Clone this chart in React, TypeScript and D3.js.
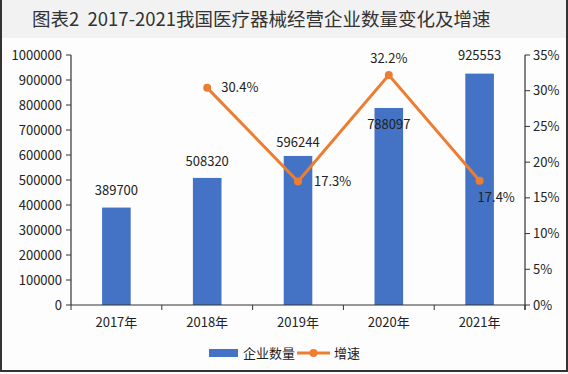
import React from 'react';
import * as d3 from 'd3';

const years = ['2017年', '2018年', '2019年', '2020年', '2021年'];
const companies = [389700, 508320, 596244, 788097, 925553];
const growth: (number | null)[] = [null, 30.4, 17.3, 32.2, 17.4];
const leftTicks = [0, 100000, 200000, 300000, 400000, 500000, 600000, 700000, 800000, 900000, 1000000];
const rightTicks = [0, 5, 10, 15, 20, 25, 30, 35];

const BAR = '#4472C4';
const LINE = '#ED7D31';
const FONT = '"Noto Sans CJK SC", "Noto Sans", sans-serif';

// label placement tweaks (dx, dy, anchor) per point
const barLabelDy = [-17, -16, -13, 16, -18];
const lineLabelPos: [number, number, string][] = [
  [0, 0, 'start'],
  [14, 0, 'start'],
  [16, 0, 'start'],
  [0, -17, 'middle'],
  [-2, 17, 'start'],
];

const App = () => {
  const W = 568;
  const H = 374;
  const left = 71;
  const right = 525;
  const top = 55;
  const bottom = 305;

  const x = d3.scaleBand().domain(years).range([left, right]).paddingInner(0.685).paddingOuter(0.3425);
  const step = (right - left) / years.length;
  const y = d3.scaleLinear().domain([0, 1000000]).range([bottom, top]);
  const y2 = d3.scaleLinear().domain([0, 35]).range([bottom, top]);

  const pts = years
    .map((yr, i) => ({ yr, i, v: growth[i] }))
    .filter((d) => d.v !== null) as { yr: string; i: number; v: number }[];
  const line = d3
    .line<{ yr: string; v: number }>()
    .x((d) => (x(d.yr) as number) + x.bandwidth() / 2)
    .y((d) => y2(d.v));

  return (
    <svg
      width={W}
      height={H}
      style={{ position: 'absolute', left: 0, top: 0, background: '#fdfdfd' }}
      fontFamily={FONT}
    >
      <rect x={0} y={0} width={W} height={38} fill="#f2f2f2" />
      <text x={32} y={26} fontSize={18.5} fill="#333" fontWeight={400}>
        {'图表2\u00a0\u00a02017-2021我国医疗器械经营企业数量变化及增速'}
      </text>

      {/* frame */}
      <line x1={1} y1={0} x2={1} y2={372} stroke="#333" strokeWidth={2} />
      <line x1={567} y1={0} x2={567} y2={372} stroke="#333" strokeWidth={2} />
      <line x1={0} y1={371} x2={W} y2={371} stroke="#333" strokeWidth={2} />

      {/* bars */}
      {years.map((yr, i) => (
        <rect
          key={yr}
          x={x(yr)}
          y={y(companies[i])}
          width={x.bandwidth()}
          height={bottom - y(companies[i])}
          fill={BAR}
        />
      ))}

      {/* left axis */}
      <line x1={left} y1={top} x2={left} y2={bottom} stroke="#333" strokeWidth={1.2} />
      {leftTicks.map((t) => (
        <g key={t}>
          <line x1={left - 5} x2={left} y1={y(t)} y2={y(t)} stroke="#333" />
          <text x={left - 9} y={y(t)} dy="0.35em" textAnchor="end" fontSize={13} fill="#222">
            {t}
          </text>
        </g>
      ))}

      {/* right axis */}
      <line x1={right} y1={top} x2={right} y2={bottom + 5} stroke="#333" strokeWidth={1.2} />
      {rightTicks.map((t) => (
        <g key={t}>
          <line x1={right} x2={right + 5} y1={y2(t)} y2={y2(t)} stroke="#333" />
          <text x={right + 8} y={y2(t)} dy="0.35em" fontSize={13} fill="#222">
            {t}%
          </text>
        </g>
      ))}

      {/* x axis */}
      <line x1={left} y1={bottom} x2={right} y2={bottom} stroke="#333" strokeWidth={1.2} />
      {d3.range(years.length + 1).map((k) => (
        <line key={k} x1={left + k * step} x2={left + k * step} y1={bottom} y2={bottom + 5} stroke="#333" />
      ))}
      {years.map((yr) => (
        <text key={yr} x={(x(yr) as number) + x.bandwidth() / 2} y={322} dy="0.35em" textAnchor="middle" fontSize={13} fill="#222">
          {yr}
        </text>
      ))}

      {/* bar labels */}
      {years.map((yr, i) => (
        <text
          key={yr}
          x={(x(yr) as number) + x.bandwidth() / 2}
          y={y(companies[i]) + barLabelDy[i]}
          dy="0.35em"
          textAnchor="middle"
          fontSize={13}
          fill="#222"
        >
          {companies[i]}
        </text>
      ))}

      {/* growth line */}
      <path d={line(pts) || ''} fill="none" stroke={LINE} strokeWidth={3} />
      {pts.map((d) => {
        const cx = (x(d.yr) as number) + x.bandwidth() / 2;
        const cy = y2(d.v);
        const [dx, dy, anchor] = lineLabelPos[d.i];
        return (
          <g key={d.yr}>
            <circle cx={cx} cy={cy} r={4} fill={LINE} />
            <text x={cx + dx} y={cy + dy} dy="0.35em" textAnchor={anchor as any} fontSize={13} fill="#222">
              {d.v.toFixed(1)}%
            </text>
          </g>
        );
      })}

      {/* legend */}
      <rect x={209} y={349} width={29} height={8} fill={BAR} />
      <text x={243} y={353} dy="0.35em" fontSize={13} fill="#222">企业数量</text>
      <line x1={297} x2={330} y1={353} y2={353} stroke={LINE} strokeWidth={3} />
      <circle cx={313.5} cy={353} r={4} fill={LINE} />
      <text x={334} y={353} dy="0.35em" fontSize={13} fill="#222">增速</text>
    </svg>
  );
};

export default App;
